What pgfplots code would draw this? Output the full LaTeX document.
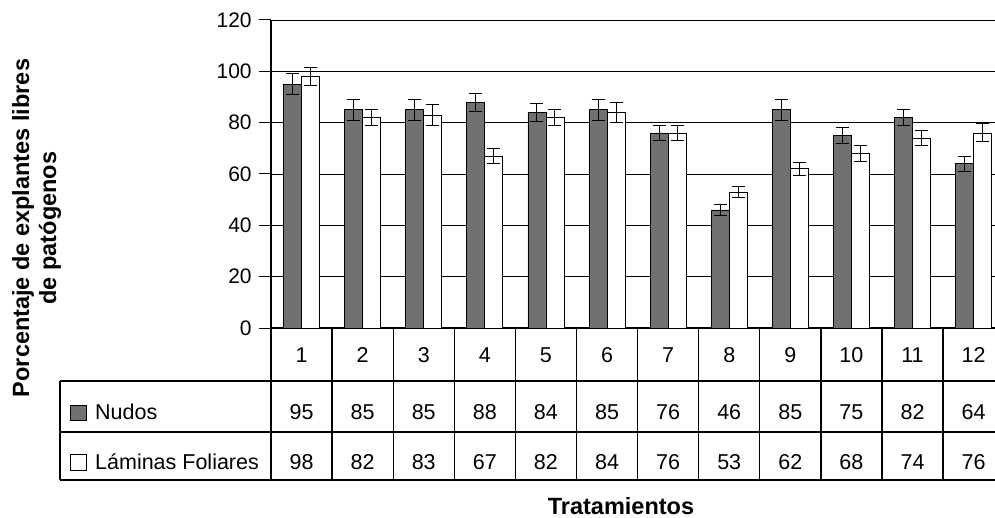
\documentclass[border=0pt]{standalone}
\usepackage{pgfplots}
\pgfplotsset{compat=1.18}
\usepackage{pgfplotstable}
\usepackage{fontspec}
\setmainfont{Liberation Sans}
\definecolor{nudos}{RGB}{112,112,112}
\pgfplotstableread{
x n ne l le
1 95 4 98 3.5
2 85 4 82 3
3 85 4 83 4
4 88 3.5 67 3
5 84 3.5 82 3
6 85 4 84 4
7 76 3 76 3
8 46 2 53 2
9 85 4 62 2.5
10 75 3 68 3
11 82 3 74 3
12 64 3 76 3.5
}\datatable
\begin{document}
\begin{tikzpicture}
\fontsize{21.5}{25}\selectfont
\useasboundingbox (0,0) rectangle (995pt,517pt);
\begin{axis}[
  at={(271pt,189pt)}, anchor=south west,
  scale only axis, width=724pt, height=308pt,
  xmin=0.5, xmax=12.35, ymin=0, ymax=120,
  ybar=0pt, bar width=18pt,
  axis lines=left,
  axis line style={-, black, line width=1.3pt},
  xtick=\empty,
  ytick={0,20,...,120},
  ymajorgrids,
  grid style={black, line width=0.9pt},
  tick align=outside,
  major tick length=12pt,
  ytick style={black, line width=1pt},
  yticklabel style={font=\fontsize{21}{25}\selectfont},
  /pgf/number format/assume math mode=true,
  clip=false,
]
\addplot[fill=nudos, draw=black, line width=0.8pt,
  error bars/.cd, y dir=both, y explicit,
  error bar style={black, line width=0.9pt},
  error mark options={rotate=90, black, line width=0.9pt, mark size=6.5pt}]
  table[x=x, y=n, y error=ne]{\datatable};
\addplot[fill=white, draw=black, line width=0.8pt,
  error bars/.cd, y dir=both, y explicit,
  error bar style={black, line width=0.9pt},
  error mark options={rotate=90, black, line width=0.9pt, mark size=6.5pt}]
  table[x=x, y=l, y error=le]{\datatable};
\end{axis}
% data table
\begin{scope}[line width=1.3pt]
\draw (60pt,136pt) -- (995pt,136pt);
\draw (60pt,85pt) -- (995pt,85pt);
\draw (60pt,37pt) -- (995pt,37pt);
\draw (60pt,136pt) -- (60pt,37pt);
\foreach \k in {0,...,11} {
  \draw ({271pt+61.097pt*\k},189pt) -- ({271pt+61.097pt*\k},37pt);
}
\end{scope}
\foreach \i/\a/\b in {1/95/98,2/85/82,3/85/83,4/88/67,5/84/82,6/85/84,7/76/76,8/46/53,9/85/62,10/75/68,11/82/74,12/64/76} {
  \node[anchor=base, inner sep=0pt] at ({271pt+61.097pt*(\i-0.5)},154.5pt) {\i};
  \node[anchor=base, inner sep=0pt] at ({271pt+61.097pt*(\i-0.5)},97.5pt) {\a};
  \node[anchor=base, inner sep=0pt] at ({271pt+61.097pt*(\i-0.5)},47.5pt) {\b};
}
\draw[fill=nudos, line width=1pt] (70pt,97pt) rectangle (86pt,112pt);
\draw[fill=white, line width=1pt] (70pt,47pt) rectangle (86pt,63pt);
\node[anchor=base west, inner sep=0pt] at (95pt,97.5pt) {Nudos};
\node[anchor=base west, inner sep=0pt] at (95pt,47.5pt) {Láminas Foliares};
\node[anchor=base, inner sep=0pt, font=\fontsize{23.5}{27}\selectfont\bfseries] at (621pt,3pt) {Tratamientos};
\node[rotate=90, align=center, inner sep=0pt, font=\fontsize{23.5}{27}\selectfont\bfseries] at (36.5pt,289pt) {Porcentaje de explantes libres\\de patógenos};
\end{tikzpicture}
\end{document}
